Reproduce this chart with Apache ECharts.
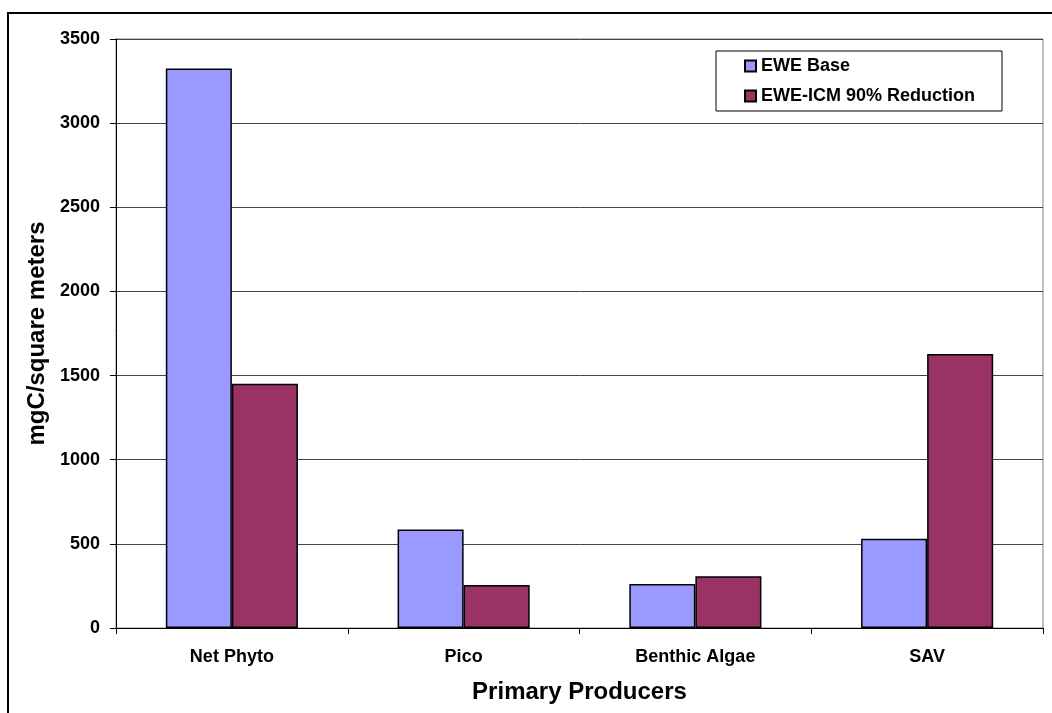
<!DOCTYPE html>
<html>
<head>
<meta charset="utf-8">
<script src="https://cdn.jsdelivr.net/npm/echarts@6/dist/echarts.min.js"></script>
<style>
html,body{margin:0;padding:0;background:#fff;}
#chart{width:1052px;height:713px;}
</style>
</head>
<body>
<div id="chart"></div>
<script>
var categories = ['Net Phyto', 'Pico', 'Benthic Algae', 'SAV'];
var seriesNames = ['EWE Base', 'EWE-ICM 90% Reduction'];
var eweBase = [3325, 585, 262, 530];
var eweIcm = [1452, 255, 307, 1628];
var yTicks = [0, 500, 1000, 1500, 2000, 2500, 3000, 3500];

var FONT = '"Liberation Sans", Arial, sans-serif';
var chart = echarts.init(document.getElementById('chart'));
chart.setOption({
  backgroundColor: '#ffffff',
  animation: false,
  graphic: [{
    type: 'rect',
    shape: { x: 8, y: 13, width: 2000, height: 2000 },
    style: { fill: 'none', stroke: '#000', lineWidth: 2 },
    silent: true
  }],
  grid: {
    left: 116, top: 39, right: 9, bottom: 85,
    show: true, borderColor: '#808080', borderWidth: 1, backgroundColor: 'transparent'
  },
  legend: {
    orient: 'vertical',
    left: 716, top: 51,
    width: 290,
    data: seriesNames,
    icon: 'rect',
    itemWidth: 11, itemHeight: 11,
    itemGap: 10,
    padding: [5, 27, 5, 28],
    borderColor: '#000', borderWidth: 1,
    backgroundColor: '#fff',
    textStyle: { fontFamily: FONT, fontSize: 18, fontWeight: 'bold', color: '#000', lineHeight: 20 }
  },
  xAxis: {
    type: 'category',
    data: categories,
    name: 'Primary Producers',
    nameLocation: 'middle',
    nameGap: 52,
    nameTextStyle: { fontFamily: FONT, fontSize: 24, fontWeight: 'bold', color: '#000' },
    axisLine: { lineStyle: { color: '#000', width: 1 } },
    axisTick: { show: true, alignWithLabel: false, length: 6, lineStyle: { color: '#000' } },
    axisLabel: { fontFamily: FONT, fontSize: 18, fontWeight: 'bold', color: '#000', margin: 20, interval: 0 }
  },
  yAxis: {
    type: 'value',
    min: 0, max: 3500, interval: 500,
    name: 'mgC/square meters',
    nameLocation: 'middle',
    nameRotate: 90,
    nameGap: 67,
    nameTextStyle: { fontFamily: FONT, fontSize: 24, fontWeight: 'bold', color: '#000' },
    axisLine: { show: true, lineStyle: { color: '#000', width: 1 } },
    axisTick: { show: true, length: 6, lineStyle: { color: '#000' } },
    axisLabel: {
      fontFamily: FONT, fontSize: 18, fontWeight: 'bold', color: '#000', margin: 16,
      formatter: function (v) { return yTicks.indexOf(v) >= 0 ? String(v) : ''; }
    },
    splitLine: { show: true, lineStyle: { color: '#444', width: 1 } }
  },
  series: [{
    name: seriesNames[0],
    type: 'bar',
    data: eweBase,
    barGap: '0%',
    barCategoryGap: '43%',
    itemStyle: { color: '#9999FF', borderColor: '#000', borderWidth: 1.5 }
  }, {
    name: seriesNames[1],
    type: 'bar',
    data: eweIcm,
    barGap: '0%',
    barCategoryGap: '43%',
    itemStyle: { color: '#993366', borderColor: '#000', borderWidth: 1.5 }
  }]
});
</script>
</body>
</html>
